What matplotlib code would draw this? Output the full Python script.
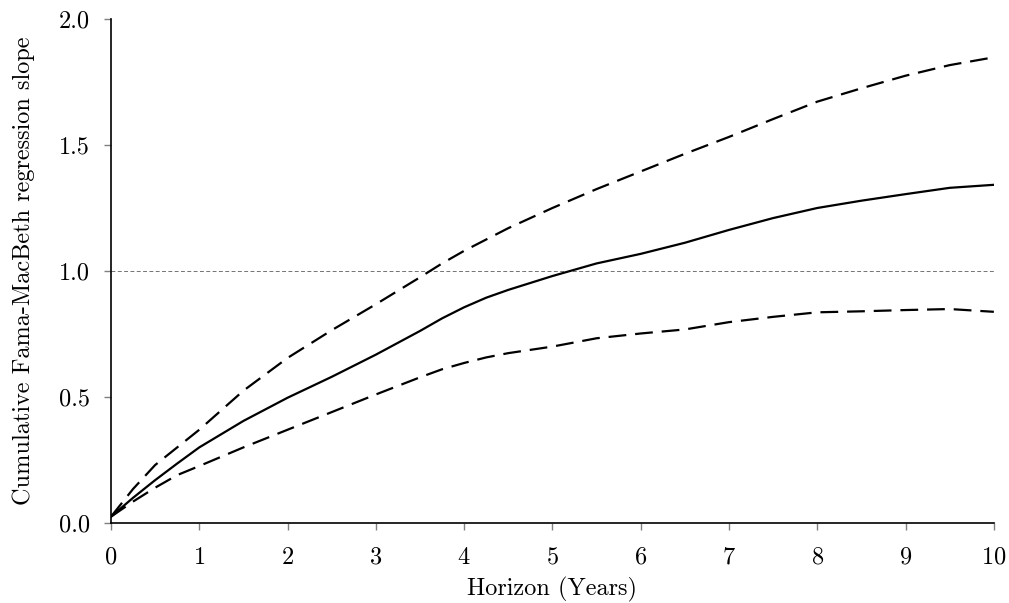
import matplotlib
matplotlib.use("Agg")
import matplotlib.pyplot as plt

plt.rcParams['font.family'] = ['cmr10', 'DejaVu Serif']
plt.rcParams['axes.formatter.use_mathtext'] = True

horizon = [0, 0.25, 0.5, 0.75, 1, 1.5, 2, 2.5, 3, 3.5, 3.75, 4, 4.25, 4.5, 5, 5.5, 6, 6.5,
           7, 7.5, 8, 8.5, 9, 9.5, 10]
slope = [0.025, 0.10, 0.17, 0.236, 0.30, 0.405, 0.497, 0.58, 0.668, 0.762, 0.812, 0.856,
         0.894, 0.925, 0.98, 1.03, 1.068, 1.112, 1.163, 1.21, 1.25, 1.279, 1.305, 1.33, 1.342]
upper = [0.025, 0.135, 0.23, 0.30, 0.37, 0.525, 0.655, 0.765, 0.868, 0.975, 1.03, 1.08,
         1.125, 1.17, 1.25, 1.325, 1.395, 1.465, 1.532, 1.603, 1.672, 1.725, 1.775, 1.817,
         1.848]
lower = [0.025, 0.085, 0.14, 0.19, 0.226, 0.30, 0.37, 0.44, 0.51, 0.578, 0.61, 0.635,
         0.657, 0.674, 0.70, 0.733, 0.752, 0.768, 0.797, 0.818, 0.836, 0.840, 0.845, 0.849,
         0.838]

fig = plt.figure(figsize=(10.09, 6.03), dpi=100)
ax = fig.add_axes([0.110, 0.1327, 0.875, 0.8358])

ax.axhline(1.0, color='0.45', lw=0.7, ls=(0, (4, 2.5)), zorder=1)
ax.plot(horizon, slope, color='black', lw=1.6, zorder=3)
ax.plot(horizon, upper, color='black', lw=1.6, dashes=(8, 4), zorder=3)
ax.plot(horizon, lower, color='black', lw=1.6, dashes=(8, 4), zorder=3)

ax.set_xlim(0, 10)
ax.set_ylim(0, 2.0)
ax.set_xticks(range(0, 11))
ax.set_yticks([0.0, 0.5, 1.0, 1.5, 2.0])
ax.set_yticklabels(['0.0', '0.5', '1.0', '1.5', '2.0'])

for s in ['top', 'right']:
    ax.spines[s].set_visible(False)
for s in ['left', 'bottom']:
    ax.spines[s].set_linewidth(1.2)

ax.tick_params(direction='out', length=5, width=1, color='0.5', labelsize=17.5)
ax.tick_params(axis='x', pad=12)
ax.tick_params(axis='y', pad=10)
ax.set_xlabel('Horizon (Years)', fontsize=17.5, labelpad=6)
ax.set_ylabel('Cumulative Fama-MacBeth regression slope', fontsize=17.5, labelpad=17)

fig.savefig('out.png', dpi=100)
